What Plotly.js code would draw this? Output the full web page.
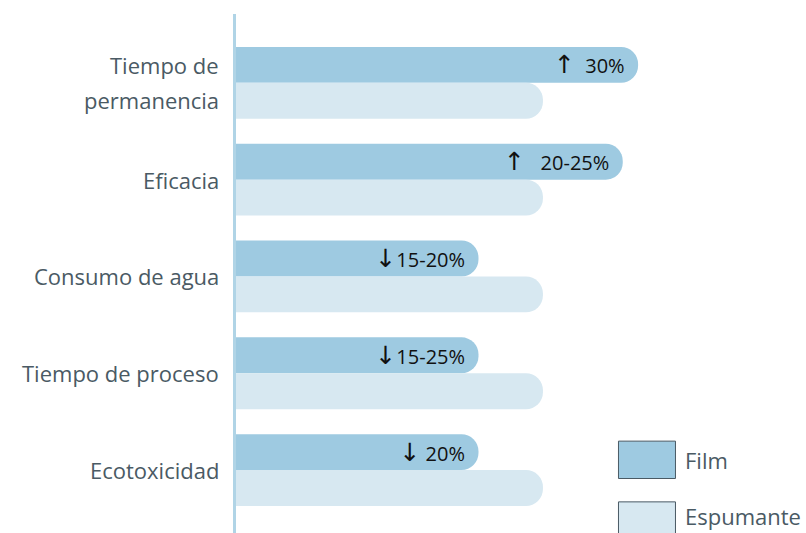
<!DOCTYPE html>
<html>
<head>
<meta charset="utf-8">
<script src="https://cdn.plot.ly/plotly-3.0.1.min.js"></script>
<style>html,body{margin:0;padding:0;background:#fff;}#chart{width:806px;height:533px;}</style>
</head>
<body>
<div id="chart"></div>
<script>
const categories = ["Tiempo de<br>permanencia", "Eficacia", "Consumo de agua", "Tiempo de proceso", "Ecotoxicidad"];
const seriesNames = ["Film", "Espumante"];
const filmValues = [131, 126, 79, 79, 79];
const espumanteValues = [100, 100, 100, 100, 100];
const filmArrows = ["↑", "↑", "↓", "↓", "↓"];
const filmChanges = ["  30%", "   20-25%", "15-20%", "15-25%", " 20%"];

const filmColor = "#9ecae1";
const espColor = "#d7e8f1";
const labelColor = "#4a5a64";
const fontFam = "'Open Sans', 'Noto Sans', sans-serif";

const filmText = filmArrows.map((a, i) =>
  '<span style="font-family:DejaVu Sans;font-size:25px">' + a + '</span>' + filmChanges[i].replace(/ /g, '\u00a0'));

const traces = [
  {
    type: "bar", orientation: "h", name: seriesNames[0],
    y: categories, x: filmValues,
    marker: {color: filmColor, cornerradius: 18},
    text: filmText, textposition: "inside", insidetextanchor: "end",
    textfont: {color: "#111", size: 20, family: fontFam},
    hoverinfo: "none"
  },
  {
    type: "bar", orientation: "h", name: seriesNames[1],
    y: categories, x: espumanteValues,
    marker: {color: espColor, cornerradius: 18},
    hoverinfo: "none"
  }
];

// category labels drawn line by line for a wider line spacing
const labelAnns = [];
categories.forEach(c => {
  const lines = c.split("<br>");
  const n = lines.length;
  lines.forEach((ln, k) => {
    labelAnns.push({
      xref: "paper", yref: "y", x: -0.027, y: c, text: ln,
      showarrow: false, xanchor: "right", yanchor: "middle",
      yshift: ((n - 1) / 2 - k) * 35,
      font: {size: 22, color: labelColor, family: fontFam}
    });
  });
});

const layout = {
  width: 806, height: 533,
  margin: {l: 236, r: 0, t: 14, b: 0},
  paper_bgcolor: "#fff", plot_bgcolor: "#fff",
  barmode: "group", bargap: 0.258, bargroupgap: 0,
  showlegend: false,
  font: {family: fontFam, color: labelColor, size: 22},
  xaxis: {range: [0, 185.7], showgrid: false, zeroline: false, showticklabels: false, showline: false, fixedrange: true},
  yaxis: {
    type: "category", range: [4.65, -0.711], showgrid: false, zeroline: false,
    showline: true, linecolor: "#b0d4e6", linewidth: 3,
    ticks: "", showticklabels: false
  },
  shapes: [
    {type: "rect", xref: "paper", yref: "paper", x0: 0.671, x1: 0.771, y0: 0.105, y1: 0.177,
     fillcolor: filmColor, line: {color: "#4a5a64", width: 1}},
    {type: "rect", xref: "paper", yref: "paper", x0: 0.671, x1: 0.771, y0: -0.05, y1: 0.06,
     fillcolor: espColor, line: {color: "#4a5a64", width: 1}}
  ],
  annotations: labelAnns.concat([
    {xref: "paper", yref: "paper", x: 0.785, y: 0.141, text: seriesNames[0], showarrow: false, xanchor: "left", yanchor: "middle", font: {size: 22, color: labelColor}},
    {xref: "paper", yref: "paper", x: 0.785, y: 0.032, text: seriesNames[1], showarrow: false, xanchor: "left", yanchor: "middle", font: {size: 22, color: labelColor}}
  ])
};

Plotly.newPlot("chart", traces, layout, {displayModeBar: false, staticPlot: true});
</script>
</body>
</html>
